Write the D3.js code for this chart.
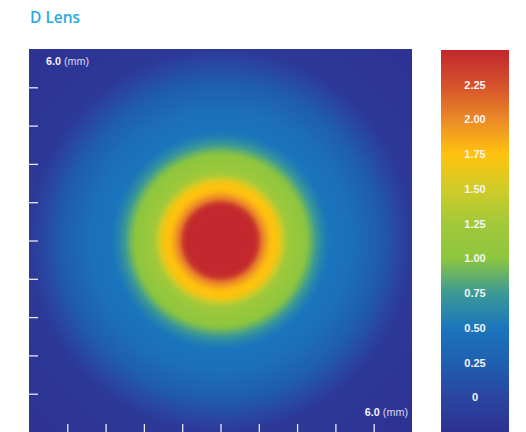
<!DOCTYPE html>
<html>
<head>
<meta charset="utf-8">
<script src="https://cdn.jsdelivr.net/npm/d3@7"></script>
<style>
  body { margin: 0; background: #fff; }
  svg { display: block; }
</style>
</head>
<body>
<div id="chart"></div>
<script>
  /**
   * Data: radial power profile of the lens (radius in mm, power)
   */
  var profileRadius = [0, 0.52, 0.58, 0.64, 0.72, 0.78, 0.90, 0.98, 1.05, 1.15, 1.30, 1.40, 1.50, 1.60, 1.70, 2.08, 2.50, 2.82, 3.00, 4.30];
  var profilePower  = [2.50, 2.49, 2.38, 2.10, 1.90, 1.78, 1.70, 1.45, 1.25, 1.15, 1.05, 0.92, 0.75, 0.60, 0.50, 0.42, 0.22, 0.00, -0.15, -0.25];

  // colour bar stops (value -> colour) and its labels
  var scaleValues = [-0.25, 0, 0.25, 0.5, 0.75, 1.0, 1.25, 1.5, 1.75, 2.0, 2.25, 2.5];
  var scaleColors = ['#2e3192', '#2a45a0', '#1f5fb0', '#1b75bc', '#3c9a96', '#8cc63f', '#a2c93a', '#d0cc28', '#ffc20e', '#eb8a28', '#d5502b', '#c1272d'];
  var scaleLabels = ['0', '0.25', '0.50', '0.75', '1.00', '1.25', '1.50', '1.75', '2.00', '2.25'];
  var scaleLabelValues = [0, 0.25, 0.5, 0.75, 1.0, 1.25, 1.5, 1.75, 2.0, 2.25];

  var axisTicks = [0.6, 1.2, 1.8, 2.4, 3.0, 3.6, 4.2, 4.8, 5.4];
  var extentMm = 6.0;

  /**
   * Settings
   */
  var W = 526, H = 432;
  var plot = {left: 29, top: 49, size: 383};
  var bar = {left: 441, top: 50, width: 68, height: 382};

  var x = d3.scaleLinear().domain([0, extentMm]).range([plot.left, plot.left + plot.size]);
  var y = d3.scaleLinear().domain([0, extentMm]).range([plot.top + plot.size, plot.top]);
  var power = d3.scaleLinear().domain(profileRadius).range(profilePower).clamp(true);
  var color = d3.scaleLinear().domain(scaleValues).range(scaleColors).interpolate(d3.interpolateRgb).clamp(true);
  var barY = d3.scaleLinear().domain([-0.25, 2.5]).range([bar.top + bar.height, bar.top]);

  var svg = d3.select('#chart').append('svg')
    .attr('width', W)
    .attr('height', H);

  // title
  svg.append('text')
    .attr('x', 30)
    .attr('y', 23)
    .attr('fill', '#29aae1')
    .style('font-family', '"Open Sans", sans-serif')
    .style('font-weight', 600)
    .style('font-size', '15.5px')
    .text('D Lens');

  // heat map cells on a canvas, placed as an image
  var n = 240;
  var canvas = document.createElement('canvas');
  canvas.width = n;
  canvas.height = n;
  var ctx = canvas.getContext('2d');
  var img = ctx.createImageData(n, n);
  var cx = extentMm / 2;
  for (var j = 0; j < n; j++) {
    for (var i = 0; i < n; i++) {
      var mx = (i + 0.5) / n * extentMm;
      var my = (j + 0.5) / n * extentMm;
      var r = Math.sqrt((mx - cx) * (mx - cx) + (my - cx) * (my - cx));
      var c = d3.rgb(color(power(r)));
      var k = (j * n + i) * 4;
      img.data[k] = c.r;
      img.data[k + 1] = c.g;
      img.data[k + 2] = c.b;
      img.data[k + 3] = 255;
    }
  }
  ctx.putImageData(img, 0, 0);

  svg.append('image')
    .attr('x', x(0))
    .attr('y', y(extentMm))
    .attr('width', x(extentMm) - x(0))
    .attr('height', y(0) - y(extentMm))
    .attr('preserveAspectRatio', 'none')
    .attr('href', canvas.toDataURL());

  // Add the axes (ticks only, pointing inward)
  var left = svg.append('g')
    .attr('transform', 'translate(' + x(0) + ',0)')
    .call(d3.axisLeft(y).tickValues(axisTicks).tickSize(-9).tickFormat(''));
  var bottom = svg.append('g')
    .attr('transform', 'translate(0,' + y(0) + ')')
    .call(d3.axisBottom(x).tickValues(axisTicks).tickSize(-8).tickFormat(''));
  [left, bottom].forEach(function (g) {
    g.select('.domain').remove();
    g.selectAll('line').attr('stroke', '#e8e8f4').attr('stroke-width', 1.3);
  });

  function mmLabel(px, py, anchor) {
    var t = svg.append('text')
      .attr('x', px)
      .attr('y', py)
      .attr('text-anchor', anchor)
      .attr('fill', '#f2f2f8')
      .style('font-family', '"Liberation Sans", Arial, sans-serif')
      .style('font-size', '10.8px');
    t.append('tspan').style('font-weight', 'bold').text(extentMm.toFixed(1));
    t.append('tspan').attr('fill', '#d8d8ee').text(' (mm)');
  }
  mmLabel(46, 65, 'start');
  mmLabel(408, 416, 'end');

  // colour bar
  var grad = svg.append('defs').append('linearGradient')
    .attr('id', 'bar-grad')
    .attr('x1', 0).attr('y1', 1).attr('x2', 0).attr('y2', 0);
  grad.selectAll('stop')
    .data(scaleValues)
    .enter().append('stop')
    .attr('offset', function (d) { return (barY(d) - (bar.top + bar.height)) / -bar.height; })
    .attr('stop-color', function (d, i) { return scaleColors[i]; });

  svg.append('rect')
    .attr('x', bar.left)
    .attr('y', bar.top)
    .attr('width', bar.width)
    .attr('height', bar.height)
    .attr('fill', 'url(#bar-grad)');

  svg.selectAll('.bar-label')
    .data(scaleLabelValues)
    .enter().append('text')
    .attr('class', 'bar-label')
    .attr('x', bar.left + bar.width / 2)
    .attr('y', function (d) { return barY(d) + 4; })
    .attr('text-anchor', 'middle')
    .attr('fill', '#f4f4f4')
    .style('font-family', '"Liberation Sans", Arial, sans-serif')
    .style('font-weight', 'bold')
    .style('font-size', '11px')
    .text(function (d, i) { return scaleLabels[i]; });
</script>
</body>
</html>
